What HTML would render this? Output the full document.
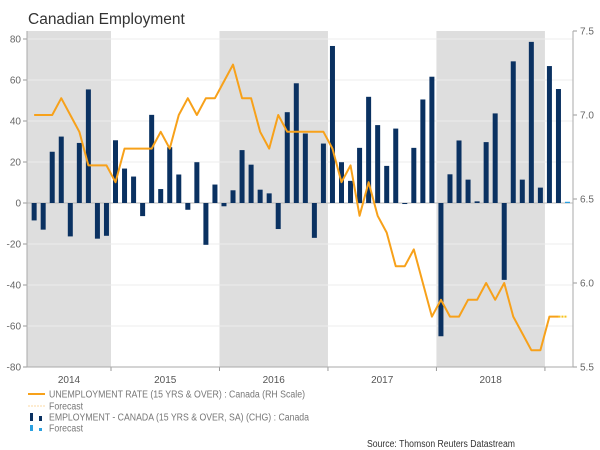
<!DOCTYPE html>
<html><head><meta charset="utf-8"><style>
body{margin:0;background:#fff;width:600px;height:450px;overflow:hidden;font-family:"Liberation Sans",sans-serif}
svg{display:block}
</style></head><body>
<svg id="c" width="600" height="450" xmlns="http://www.w3.org/2000/svg">
<text x="28" y="24" font-size="15.5" fill="#333">Canadian Employment</text>
<g id="bg"></g><g id="grid"></g><g id="bars"></g><g id="line"></g><g id="axes"></g>
<g font-size="10" fill="#777">
<line x1="28" y1="394" x2="45" y2="394" stroke="#f7a11a" stroke-width="2"/>
<text x="49" y="397.5" textLength="256" lengthAdjust="spacingAndGlyphs">UNEMPLOYMENT RATE (15 YRS &amp; OVER) : Canada (RH Scale)</text>
<line x1="28" y1="406" x2="45" y2="406" stroke="#fbd9a3" stroke-width="1" stroke-dasharray="2,1"/>
<text x="49" y="409.5" textLength="34" lengthAdjust="spacingAndGlyphs">Forecast</text>
<rect x="30" y="413" width="3" height="8" fill="#0a3161"/>
<rect x="39" y="416" width="3" height="5" fill="#0a3161"/>
<text x="49" y="420.5" textLength="260" lengthAdjust="spacingAndGlyphs">EMPLOYMENT - CANADA (15 YRS &amp; OVER, SA) (CHG) : Canada</text>
<rect x="30" y="425" width="3" height="6" fill="#2aa0e0"/>
<rect x="39" y="428" width="3" height="3" fill="#2aa0e0"/>
<text x="49" y="431.5" textLength="34" lengthAdjust="spacingAndGlyphs">Forecast</text>
</g>
<text x="367" y="447" font-size="10" fill="#333" textLength="148" lengthAdjust="spacingAndGlyphs">Source: Thomson Reuters Datastream</text>
</svg>
<script>
const startMonth = 3; // Apr 2014
const employment = [-8.5,-13,25,32.4,-16.3,29.3,55.4,-17.4,-16,
 30.6,16.8,12.9,-6.4,43,6.8,27.2,13.9,-3.3,19.9,-20.4,9,
 -1.6,6.2,25.8,18.7,6.5,4.7,-12.7,44.3,58.4,33.9,-17,29,
 76.6,19.9,10.8,26.9,51.8,38,18.1,36.3,-0.5,26.9,50.5,61.6,
 -65,14,30.5,11.4,0.8,29.7,43.7,-37.5,69.1,11.4,78.6,7.5,
 66.8,55.6];
const employmentForecast = [0.6];
const unemployment = [7.0,7.0,7.0,7.1,7.0,6.9,6.7,6.7,6.7,
 6.6,6.8,6.8,6.8,6.8,6.9,6.8,7.0,7.1,7.0,7.1,7.1,
 7.2,7.3,7.1,7.1,6.9,6.8,7.0,6.9,6.9,6.9,6.9,6.9,
 6.8,6.6,6.7,6.4,6.6,6.4,6.3,6.1,6.1,6.2,6.0,5.8,
 5.9,5.8,5.8,5.9,5.9,6.0,5.9,6.0,5.8,5.7,5.6,5.6,
 5.8,5.8];
const unemploymentForecast = [5.8];
const years = ["2014","2015","2016","2017","2018"];
const leftTicks = [80,60,40,20,0,-20,-40,-60,-80];
const rightTicks = ["7.5","7.0","6.5","6.0","5.5"];

const NS="http://www.w3.org/2000/svg";
const L=27,R=573,T=31,B=367;
const x=m=>2.5+(m+0.5)*9.04;
const yL=v=>203-v*2.05;
const yR=v=>31+(7.5-v)*168;
function mk(t,a,p){const e=document.createElementNS(NS,t);for(const k in a)e.setAttribute(k,a[k]);p.appendChild(e);return e;}
const bg=document.getElementById('bg'),grid=document.getElementById('grid'),bars=document.getElementById('bars'),line=document.getElementById('line'),axes=document.getElementById('axes');
years.forEach((y,i)=>{
  const x0=Math.max(L,x(i*12)-4.5),x1=x(i*12+12)-4.5;
  if(i%2===0){const r=mk('rect',{x:x0,y:T,width:x1-x0,height:B-T,fill:'#dedede'},bg);
  
  }
  const t=mk('text',{x:(x0+x1)/2,y:383,'font-size':10,fill:'#555','text-anchor':'middle'},axes);
  t.textContent=y;
  
  
  mk('line',{x1:x1,y1:B,x2:x1,y2:B+4,stroke:'#999'},axes);
});
leftTicks.forEach(v=>{
  mk('line',{x1:L,y1:yL(v),x2:R,y2:yL(v),stroke:v===0?'#bbb':'#ececec','stroke-width':1},grid);
  mk('line',{x1:L-4,y1:yL(v),x2:L,y2:yL(v),stroke:'#999'},axes);
  const t=mk('text',{x:L-6,y:yL(v)+3.5,'font-size':10,fill:'#666','text-anchor':'end'},axes);
  t.textContent=v;
  
  
});
rightTicks.forEach(s=>{
  const v=parseFloat(s);
  mk('line',{x1:R,y1:yR(v),x2:R+4,y2:yR(v),stroke:'#999'},axes);
  const t=mk('text',{x:R+7,y:yR(v)+3.5,'font-size':10,fill:'#666'},axes);
  t.textContent=s;
  
  
});
mk('line',{x1:L,y1:T,x2:L,y2:B,stroke:'#aaa'},axes);
mk('line',{x1:R,y1:T,x2:R,y2:B,stroke:'#aaa'},axes);
mk('line',{x1:L,y1:B,x2:R,y2:B,stroke:'#aaa'},axes);
employment.forEach((v,i)=>{
  const cx=x(startMonth+i),y0=yL(0),y1=yL(v);
  const r=mk('rect',{x:cx-2.5,y:Math.min(y0,y1),width:5,height:Math.max(0.8,Math.abs(y1-y0)),fill:'#0a3161'},bars);
  
  
});
employmentForecast.forEach((v,i)=>{
  const cx=x(startMonth+employment.length+i),y0=yL(0),y1=yL(v);
  const r=mk('rect',{x:cx-2.5,y:Math.min(y0,y1),width:5,height:Math.max(1,Math.abs(y1-y0)),fill:'#2aa0e0'},bars);
  
  
});
const pts=unemployment.map((v,i)=>x(startMonth+i)+','+yR(v)).join(' ');
const pl=mk('polyline',{points:pts,fill:'none',stroke:'#f7a11a','stroke-width':2,'stroke-linejoin':'round'},line);


const n=unemployment.length;
const fp=[x(startMonth+n-1)+','+yR(unemployment[n-1])].concat(unemploymentForecast.map((v,i)=>x(startMonth+n+i)+','+yR(v))).join(' ');
const fl=mk('polyline',{points:fp,fill:'none',stroke:'#f7c21a','stroke-width':2,'stroke-dasharray':'2,1'},line);


</script>
</body></html>
